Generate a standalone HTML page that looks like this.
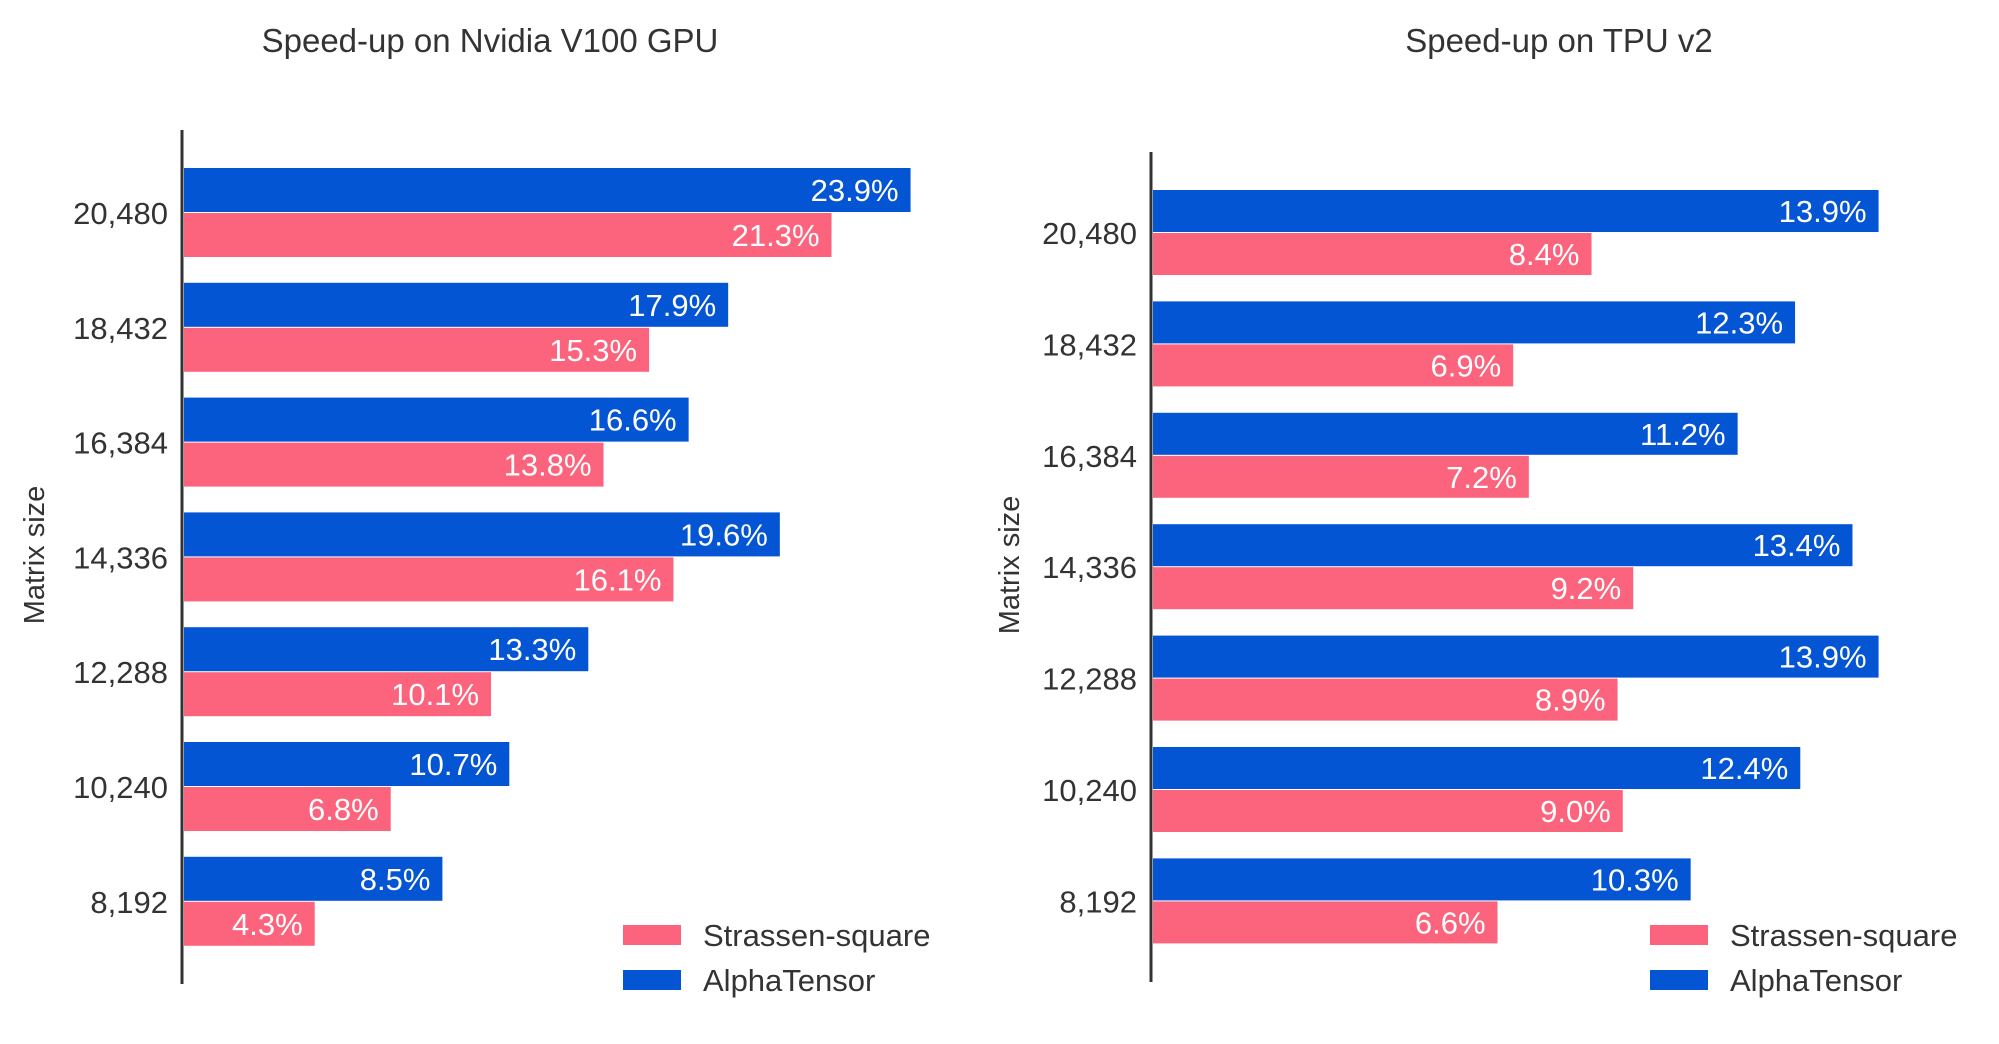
<!DOCTYPE html>
<html><head><meta charset="utf-8">
<style>
html,body{margin:0;padding:0;background:#fff;}
svg{display:block;font-family:"Liberation Sans",Arial,sans-serif;}
</style></head>
<body>
<svg id="chart" width="1999" height="1044" viewBox="0 0 1999 1044" xmlns="http://www.w3.org/2000/svg"></svg>
<script>
const categories = ["20,480","18,432","16,384","14,336","12,288","10,240","8,192"];
const gpuAlpha = [23.9,17.9,16.6,19.6,13.3,10.7,8.5];
const gpuStrassen = [21.3,15.3,13.8,16.1,10.1,6.8,4.3];
const tpuAlpha = [13.9,12.3,11.2,13.4,13.9,12.4,10.3];
const tpuStrassen = [8.4,6.9,7.2,9.2,8.9,9.0,6.6];
const legendLabels = ["Strassen-square","AlphaTensor"];

const NS = "http://www.w3.org/2000/svg";
const svg = document.getElementById('chart');
const BLUE = "#0455d4", PINK = "#fc637d", TXT = "#333";

function mk(tag, attrs, parent) {
  const e = document.createElementNS(NS, tag);
  for (const k in attrs) e.setAttribute(k, attrs[k]);
  (parent || svg).appendChild(e);
  return e;
}

function drawPanel(cfg) {
  const g = mk('g', {});
  
  
  const x = v => cfg.x0 + v * cfg.pxPer;
  const yTop = i => cfg.y0 + i * cfg.step;

  const t = mk('text', {x: cfg.titleX, y: 52, 'text-anchor': 'middle', 'font-size': 33, fill: TXT}, g);
  t.textContent = cfg.title;
  
  

  const yt = mk('text', {x: 0, y: 0, 'text-anchor': 'middle', 'font-size': 29, fill: TXT,
    transform: `translate(${cfg.ytX},${cfg.ytY}) rotate(-90)`}, g);
  yt.textContent = "Matrix size";
  
  

  categories.forEach((c, i) => {
    const top = yTop(i);
    const b = mk('rect', {x: cfg.x0, y: top, width: x(cfg.alpha[i]) - cfg.x0, height: cfg.bh, fill: BLUE}, g);
    
    
    const p = mk('rect', {x: cfg.x0, y: top + cfg.bh + 1, width: x(cfg.strassen[i]) - cfg.x0, height: cfg.bh, fill: PINK}, g);
    
    
    const bl = mk('text', {x: x(cfg.alpha[i]) - 12, y: top + cfg.bh / 2 + 11, 'text-anchor': 'end', 'font-size': 31, fill: '#fff'}, g);
    bl.textContent = cfg.alpha[i].toFixed(1) + "%";
    
    
    const pl = mk('text', {x: x(cfg.strassen[i]) - 12, y: top + cfg.bh * 1.5 + 12, 'text-anchor': 'end', 'font-size': 31, fill: '#fff'}, g);
    pl.textContent = cfg.strassen[i].toFixed(1) + "%";
    
    
    const tl = mk('text', {x: cfg.x0 - 16, y: top + cfg.bh + 12, 'text-anchor': 'end', 'font-size': 31, fill: TXT}, g);
    tl.textContent = c;
    
    
  });

  const ax = mk('line', {x1: cfg.x0 - 2, x2: cfg.x0 - 2, y1: cfg.axTop, y2: cfg.axBot, stroke: '#333', 'stroke-width': 3}, g);
  
  

  [PINK, BLUE].forEach((col, k) => {
    const sw = mk('rect', {x: cfg.legX, y: 925 + k * 45, width: 58, height: 20, fill: col}, g);
    
    
    const lt = mk('text', {x: cfg.legX + 80, y: 946 + k * 45, 'font-size': 31, fill: TXT}, g);
    lt.textContent = legendLabels[k];
    
    
  });
}

drawPanel({name: 'gpu-chart', title: 'Speed-up on Nvidia V100 GPU', titleX: 490,
  x0: 184, pxPer: 30.4, y0: 168, step: 114.8, bh: 44, axTop: 130, axBot: 984,
  ytX: 44, ytY: 555, legX: 623, alpha: gpuAlpha, strassen: gpuStrassen});
drawPanel({name: 'tpu-chart', title: 'Speed-up on TPU v2', titleX: 1559,
  x0: 1153, pxPer: 52.2, y0: 190, step: 111.4, bh: 42, axTop: 152, axBot: 982,
  ytX: 1019, ytY: 565, legX: 1650, alpha: tpuAlpha, strassen: tpuStrassen});
</script>
</body></html>
